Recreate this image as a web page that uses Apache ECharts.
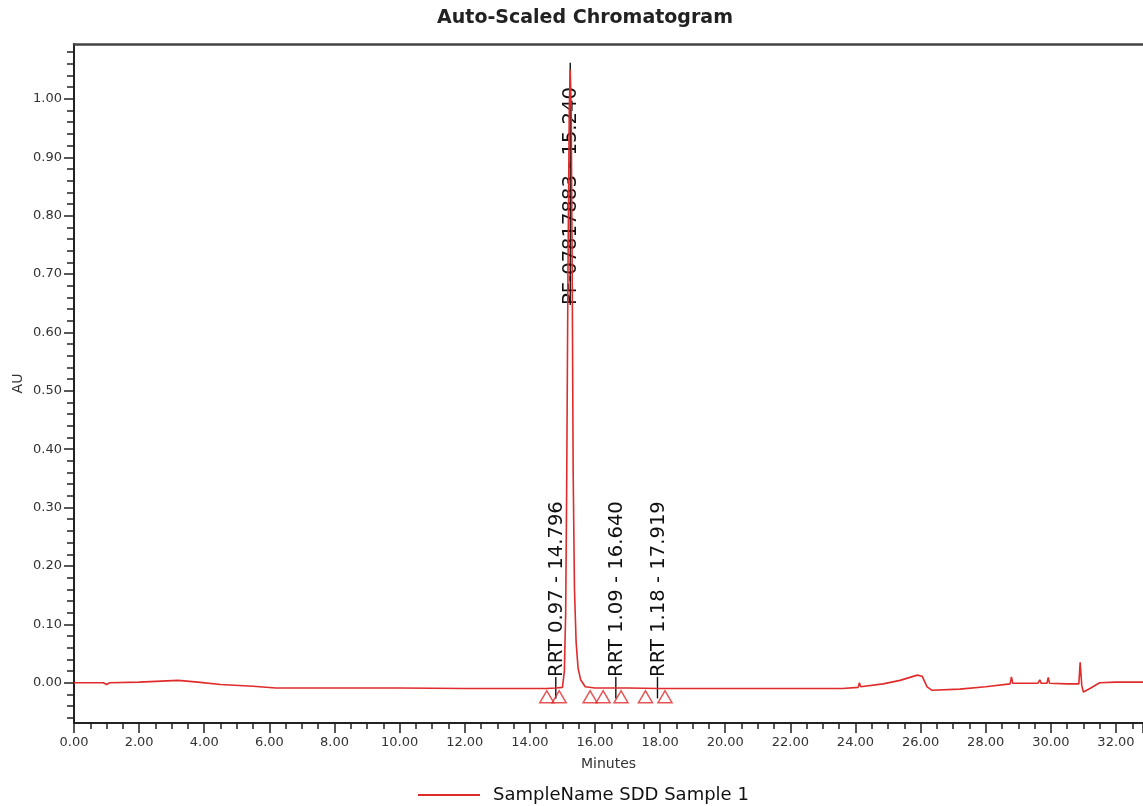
<!DOCTYPE html>
<html>
<head>
<meta charset="utf-8">
<script src="https://cdn.jsdelivr.net/npm/echarts@6/dist/echarts.min.js"></script>
<style>
html,body{margin:0;padding:0;background:#fff;}
#chart{width:1143px;height:806px;}
</style>
</head>
<body>
<div id="chart"></div>
<script>
// ---- data ----
const minutes = [0, 0.9, 1.0, 1.1, 2.0, 3.2, 3.8, 4.5, 5.5, 6.2, 8.0, 10.0, 12.0, 14.0, 14.5, 14.8, 15.0,
  15.06, 15.10, 15.13, 15.17, 15.21, 15.24, 15.27, 15.30, 15.33, 15.37, 15.42, 15.48, 15.56, 15.7,
  16.0, 17.0, 18.0, 20.0, 22.0, 23.6, 24.08, 24.12, 24.16, 24.85, 25.37, 25.9, 26.05, 26.2, 26.35,
  27.2, 28.0, 28.75, 28.79, 28.83, 29.6, 29.66, 29.7, 29.88, 29.92, 29.96, 30.5, 30.86, 30.9, 30.95,
  31.0, 31.2, 31.5, 32.0, 32.83];
const au = [0.000, 0.000, -0.003, 0.000, 0.001, 0.004, 0.001, -0.003, -0.006, -0.009, -0.009, -0.009, -0.010, -0.010, -0.010, -0.009, -0.008,
  0.020, 0.120, 0.330, 0.700, 0.980, 1.050, 0.980, 0.700, 0.360, 0.160, 0.070, 0.025, 0.005, -0.007,
  -0.009, -0.009, -0.010, -0.010, -0.010, -0.010, -0.008, 0.000, -0.007, -0.002, 0.004, 0.013, 0.011, -0.007, -0.013,
  -0.011, -0.007, -0.002, 0.010, -0.001, -0.001, 0.005, -0.001, -0.001, 0.009, -0.001, -0.002, -0.002, 0.035, -0.005,
  -0.016, -0.010, 0.000, 0.001, 0.001];

// peak start/end markers (triangles)
const markerTimes = [14.52, 14.9, 15.85, 16.25, 16.8, 17.55, 18.15];
const markerAU = [-0.024, -0.024, -0.024, -0.024, -0.024, -0.024, -0.024];

// peak annotations
const annoTimes = [14.796, 15.240, 16.640, 17.919];
const annoNames = ['RRT 0.97', 'PF-07817883', 'RRT 1.09', 'RRT 1.18'];
const annoLineLow = [-0.027, 0.647, -0.027, -0.027];
const annoLineHigh = [0.010, 1.062, 0.010, 0.010];
const annoTextBase = [0.010, 0.647, 0.010, 0.010];

// tick labels
const yTickValues = [0.00, 0.10, 0.20, 0.30, 0.40, 0.50, 0.60, 0.70, 0.80, 0.90, 1.00];
const yMinorTickValues = [];
for (let i = -3; i <= 54; i++) { if (i % 5 !== 0) yMinorTickValues.push(+(i * 0.02).toFixed(2)); }

const seriesName = 'SampleName SDD Sample 1';
const titleText = 'Auto-Scaled Chromatogram';

// ---- chart ----
const lineData = minutes.map((t, i) => [t, au[i]]);
const markerData = markerTimes.map((t, i) => [t, markerAU[i]]);
const annoData = annoTimes.map((t, i) => [t, annoLineLow[i], annoLineHigh[i], annoTextBase[i]]);
const annoLabels = annoTimes.map((t, i) => annoNames[i] + ' - ' + t.toFixed(3));

const YMIN = -0.069, YMAX = 1.094;
const axisColor = '#222';
const labelFont = { fontFamily: 'DejaVu Sans', fontSize: 13, color: '#333' };

const chart = echarts.init(document.getElementById('chart'), null, { renderer: 'canvas' });
chart.setOption({
  animation: false,
  backgroundColor: '#fff',
  title: {
    text: titleText,
    left: 585,
    textAlign: 'center',
    top: 9,
    padding: 0,
    textStyle: { fontFamily: 'DejaVu Sans', fontWeight: 'bold', fontSize: 19, color: '#222' }
  },
  legend: {
    left: 413,
    top: 781,
    data: [{ name: seriesName, icon: 'rect' }],
    itemWidth: 62,
    itemHeight: 2,
    textStyle: { fontFamily: 'DejaVu Sans', fontSize: 18, color: '#111', padding: [0, 0, 0, 8] }
  },
  grid: { left: 74, top: 44, right: 0, bottom: 83, containLabel: false },
  xAxis: [{
    type: 'value',
    min: 0, max: 32.83, interval: 2,
    name: 'Minutes', nameLocation: 'middle', nameGap: 34, nameMoveOverlap: false,
    nameTextStyle: { fontFamily: 'DejaVu Sans', fontSize: 14, color: '#333' },
    axisLine: { show: true, onZero: false, lineStyle: { color: axisColor, width: 2 } },
    axisTick: { show: true, length: 10, lineStyle: { color: axisColor, width: 1.5 } },
    minorTick: { show: true, splitNumber: 4, length: 6, lineStyle: { color: axisColor, width: 1.5 } },
    axisLabel: Object.assign({ margin: 13, showMaxLabel: false, formatter: v => v.toFixed(2) }, labelFont),
    splitLine: { show: false }
  }, {
    type: 'value', position: 'top', min: 0, max: 32.83,
    axisLine: { show: true, onZero: false, lineStyle: { color: '#444', width: 2.5 } },
    axisTick: { show: false }, axisLabel: { show: false }, splitLine: { show: false }
  }],
  yAxis: [{
    type: 'value',
    min: YMIN, max: YMAX,
    name: 'AU', nameLocation: 'middle', nameGap: 49, nameMoveOverlap: false,
    nameTextStyle: { fontFamily: 'DejaVu Sans', fontSize: 14, color: '#333' },
    axisLine: { show: true, onZero: false, lineStyle: { color: axisColor, width: 2 } },
    axisTick: { show: true, length: 10, customValues: yTickValues, lineStyle: { color: axisColor, width: 1.5 } },
    axisLabel: Object.assign({ margin: 12, customValues: yTickValues, formatter: v => v.toFixed(2) }, labelFont),
    splitLine: { show: false }
  }, {
    type: 'value', position: 'left',
    min: YMIN, max: YMAX,
    axisLine: { show: false },
    axisTick: { show: true, length: 7, customValues: yMinorTickValues, lineStyle: { color: axisColor, width: 1.5 } },
    axisLabel: { show: false },
    splitLine: { show: false }
  }],
  series: [{
    name: seriesName,
    type: 'line',
    data: lineData,
    showSymbol: false,
    symbol: 'none',
    z: 3,
    lineStyle: { color: '#e02b2b', width: 1.6 },
    itemStyle: { color: '#e02b2b' }
  }, {
    name: 'markers',
    type: 'scatter',
    data: markerData,
    symbol: 'triangle',
    symbolSize: [14, 12],
    z: 4,
    itemStyle: { color: 'rgba(255,255,255,0)', borderColor: '#e02b2b', borderWidth: 1.5 }
  }, {
    name: 'annotations',
    type: 'custom',
    data: annoData,
    z: 2,
    clip: false,
    renderItem: function (params, api) {
      const x = api.value(0);
      const p0 = api.coord([x, api.value(1)]);
      const p1 = api.coord([x, api.value(2)]);
      const pt = api.coord([x, api.value(3)]);
      return {
        type: 'group',
        children: [{
          type: 'line',
          shape: { x1: p0[0], y1: p0[1], x2: p1[0], y2: p1[1] },
          style: { stroke: '#111', lineWidth: 1.4 }
        }, {
          type: 'text',
          x: pt[0] + 1,
          y: pt[1],
          rotation: Math.PI / 2,
          style: {
            text: annoLabels[params.dataIndex],
            font: '19.6px "DejaVu Sans"',
            fill: '#111',
            align: 'left',
            verticalAlign: 'middle'
          }
        }]
      };
    }
  }]
});
</script>
</body>
</html>
